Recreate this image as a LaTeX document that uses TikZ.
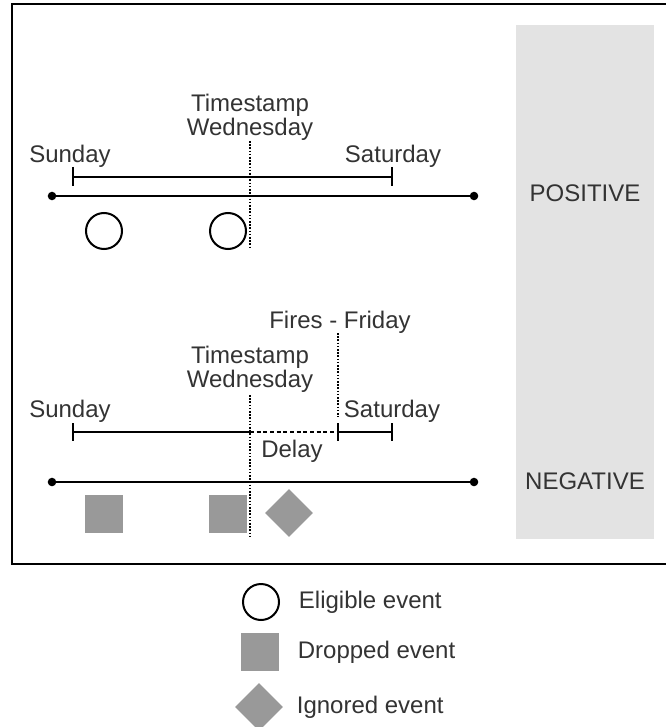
\documentclass[tikz,border=0pt]{standalone}
\usepackage{fontspec}
\setmainfont{Liberation Sans}
\usetikzlibrary{positioning,shapes.geometric}
\definecolor{txtgray}{HTML}{333333}
\definecolor{evgray}{HTML}{999999}
\definecolor{panelgray}{HTML}{E3E3E3}
\begin{document}
\begin{tikzpicture}[x=0.75pt, y=-0.75pt, every node/.style={font=\fontsize{18}{16.5}\selectfont, text=txtgray, inner sep=0pt, align=center},
    eligible/.style={circle, draw=black, line width=1.5pt, minimum size=27pt},
    dropped/.style={rectangle, fill=evgray, minimum size=28pt},
    ignored/.style={diamond, fill=evgray, minimum size=36pt},
    bar/.style={line width=1.5pt},
    fineline/.style={line width=1.2pt, dash pattern=on 1.2pt off 1.2pt},
    delayline/.style={line width=1.5pt, dash pattern=on 3pt off 2pt}]
    \useasboundingbox (0,0) rectangle (665,727);
    \draw[line width=2pt] (668,4) -- (12,4) -- (12,564) -- (668,564);
    \fill[panelgray] (516,25) rectangle (654,539);
    \node (pos) at (585,193) {POSITIVE};
    \node (neg) at (585,481) {NEGATIVE};

    % positive case
    \coordinate (pa) at (52,196);
    \coordinate (pb) at (474,196);
    \draw[bar] (pa) -- (pb);
    \fill (pa) circle (3.2pt) (pb) circle (3.2pt);
    \draw[bar] (73,177) -- (392,177);
    \foreach \x in {73, 392} { \draw[bar] (\x,167) -- (\x,186); }
    \node (psun) at (70,156) {Sunday};
    \node (psat) at (393,156) {Saturday};
    \node (pts) at (250,117) {Timestamp\\Wednesday};
    \draw[fineline] (250,141) -- (250,248);
    \node[eligible] (pe1) at (104,231) {};
    \node[eligible] (pe2) at (228,231) {};

    % negative case
    \coordinate (na) at (52,482);
    \coordinate (nb) at (474,482);
    \draw[bar] (na) -- (nb);
    \fill (na) circle (3.2pt) (nb) circle (3.2pt);
    \draw[bar] (73,432) -- (250,432);
    \draw[delayline] (250,432) -- (338,432);
    \draw[bar] (338,432) -- (392,432);
    \foreach \x in {73, 338, 392} { \draw[bar] (\x,423) -- (\x,441); }
    \node (nsun) at (70,411) {Sunday};
    \node (nsat) at (392,411) {Saturday};
    \node (nts) at (250,369) {Timestamp\\Wednesday};
    \node (fire) at (340,322) {Fires - Friday};
    \node (delay) at (292,451) {Delay};
    \draw[fineline] (250,395) -- (250,536);
    \draw[fineline] (338,333) -- (338,417);
    \node[dropped] (nd1) at (104,514) {};
    \node[dropped] (nd2) at (228,514) {};
    \node[ignored] (ni) at (289,513) {};

    % legende
    \node[eligible] (lc) at (261,602) {};
    \node[right=14pt of lc] {Eligible event};
    \node[dropped] (ls) at (260,652) {};
    \node[right=14pt of ls] {Dropped event};
    \node[ignored] (ld) at (259,707) {};
    \node[right=14pt of ld, xshift=-4pt] {Ignored event};
\end{tikzpicture}
\end{document}
